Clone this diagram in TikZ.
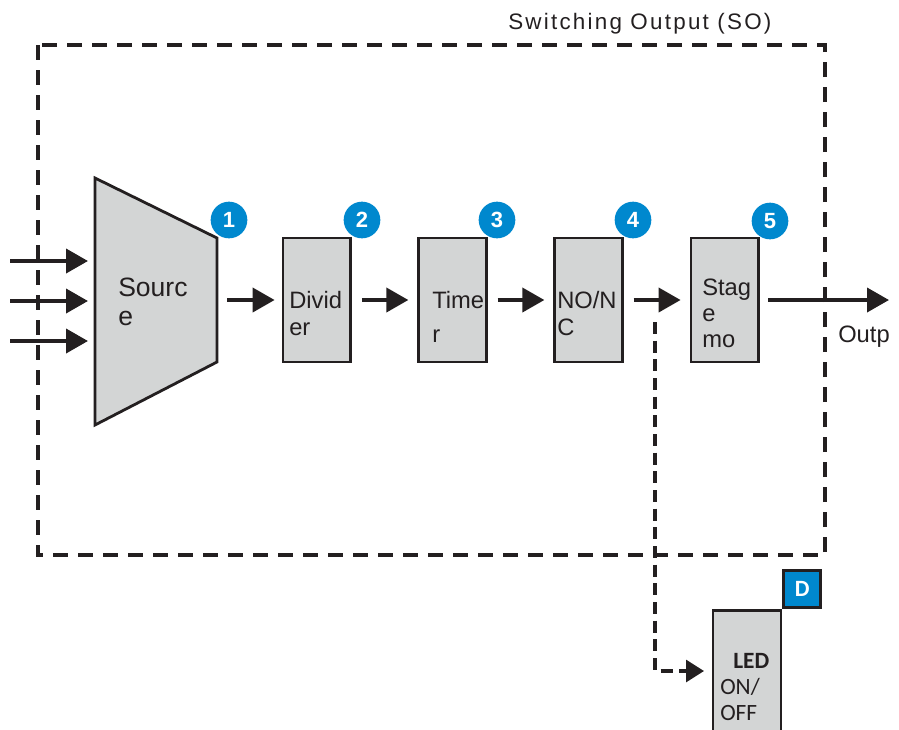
\documentclass[tikz,border=0pt]{standalone}
\usepackage{fontspec}
\setmainfont{Liberation Sans}
\newfontfamily\ttlfont[LetterSpace=10]{Liberation Sans}
\newfontfamily\humfont{Carlito}
\usetikzlibrary{arrows.meta}
\definecolor{ink}{RGB}{35,31,32}
\definecolor{boxgray}{RGB}{211,213,213}
\definecolor{badgeblue}{RGB}{0,136,206}
\tikzset{
  blk/.style={draw=ink, fill=boxgray, line width=2.1pt, inner sep=0pt,
    minimum width=50.6pt, minimum height=93pt},
  arr/.style={draw=ink, line width=2.9pt, -{Triangle[length=16.5pt,width=18pt]}},
  darr/.style={draw=ink, line width=2.3pt, dash pattern=on 9pt off 5pt,
    -{Triangle[length=13.5pt,width=16.5pt]}},
  outerbox/.style={draw=ink, line width=2.3pt, dash pattern=on 11.25pt off 7.5pt},
  badge/.style={circle, fill=badgeblue, inner sep=0pt, minimum size=27.5pt,
    text=white, font=\bfseries\fontsize{16.5}{16.5}\selectfont},
  btxt/.style={anchor=base west, inner sep=0pt, align=left, text=ink,
    font=\fontsize{17.8}{20.25}\selectfont},
}
\begin{document}
\begin{tikzpicture}[x=0.75pt,y=-0.75pt]
\useasboundingbox (0,0) rectangle (899,729);
\clip (0,0) rectangle (899,729);
% outer dashed frame
\draw[outerbox] (38,45) rectangle (825,555);
\node[anchor=base west, inner sep=0pt, text=ink, font=\ttlfont\fontsize{16.8}{20}\selectfont] (title) at (508,29) {Switching Output (SO)};
% source trapezoid
\draw[draw=ink, fill=boxgray, line width=2.1pt, line join=miter] (95,178) -- (217,238) -- (217,362) -- (95,425) -- cycle;
\coordinate (srcE) at (217,300);
\node[btxt, font=\fontsize{19.9}{21.75}\selectfont] (srcT) at (118,325) {Sourc\\e};
% inputs
\coordinate (in1s) at (10,261); \coordinate (in1e) at (88,261);
\coordinate (in2s) at (10,301); \coordinate (in2e) at (88,301);
\coordinate (in3s) at (10,341); \coordinate (in3e) at (88,341);
\draw[arr] (in1s) -- (in1e);
\draw[arr] (in2s) -- (in2e);
\draw[arr] (in3s) -- (in3e);
% blocks
\node[blk] (div) at (316.75,300) {};
\node[blk] (tim) at (452.5,300) {};
\node[blk] (nonc) at (588.5,300) {};
\node[blk] (stg) at (724.75,300) {};
\node[btxt] (divT) at (289,335) {Divid\\er};
\node[btxt, font=\fontsize{17.8}{25.5}\selectfont] (timT) at (432,342) {Time\\r};
\node[btxt] (noncT) at (557,335) {NO/N\\C};
\node[btxt, font=\fontsize{17.8}{19.5}\selectfont] (stgT) at (702,347) {Stag\\e\\mo};
% badges
\node[badge] (b1) at (229,220) {1};
\node[badge] (b2) at (362,220) {2};
\node[badge] (b3) at (497,220) {3};
\node[badge] (b4) at (633,220) {4};
\node[badge] (b5) at (770,221) {5};
% connectors
\draw[arr, shorten <=7.5pt, shorten >=5.25pt] (srcE) -- (div.west);
\draw[arr, shorten <=7.5pt, shorten >=6.75pt] (div.east) -- (tim.west);
\draw[arr, shorten <=7.5pt, shorten >=6.75pt] (tim.east) -- (nonc.west);
\draw[arr, shorten <=7.5pt, shorten >=6.75pt] (nonc.east) -- (stg.west);
\coordinate (outE) at (889,300);
\draw[arr, shorten <=6.4pt] (stg.east) -- (outE);
\node[anchor=base west, inner sep=0pt, text=ink, font=\fontsize{17.8}{20}\selectfont] (outT) at (838,342) {Outp};
% LED branch
\node[blk, anchor=north, minimum width=51pt, minimum height=150pt] (led) at (747,609) {};
\node[draw=ink, fill=badgeblue, line width=2.1pt, inner sep=0pt, minimum size=27.75pt,
  anchor=south west, text=white, font=\humfont\bfseries\fontsize{17.5}{17.5}\selectfont] (dbox) at (led.north east) {D};
\node[anchor=base west, inner sep=0pt, align=left, text=ink, font=\humfont\fontsize{17.5}{19.5}\selectfont] (ledT) at (720,720) {\hspace*{9.75pt}\textbf{LED}\\ON/\\OFF};
\coordinate (ledS) at (655,322);
\coordinate (ledA) at (704,671);
\draw[darr] (ledS) |- (ledA);
\end{tikzpicture}
\end{document}
